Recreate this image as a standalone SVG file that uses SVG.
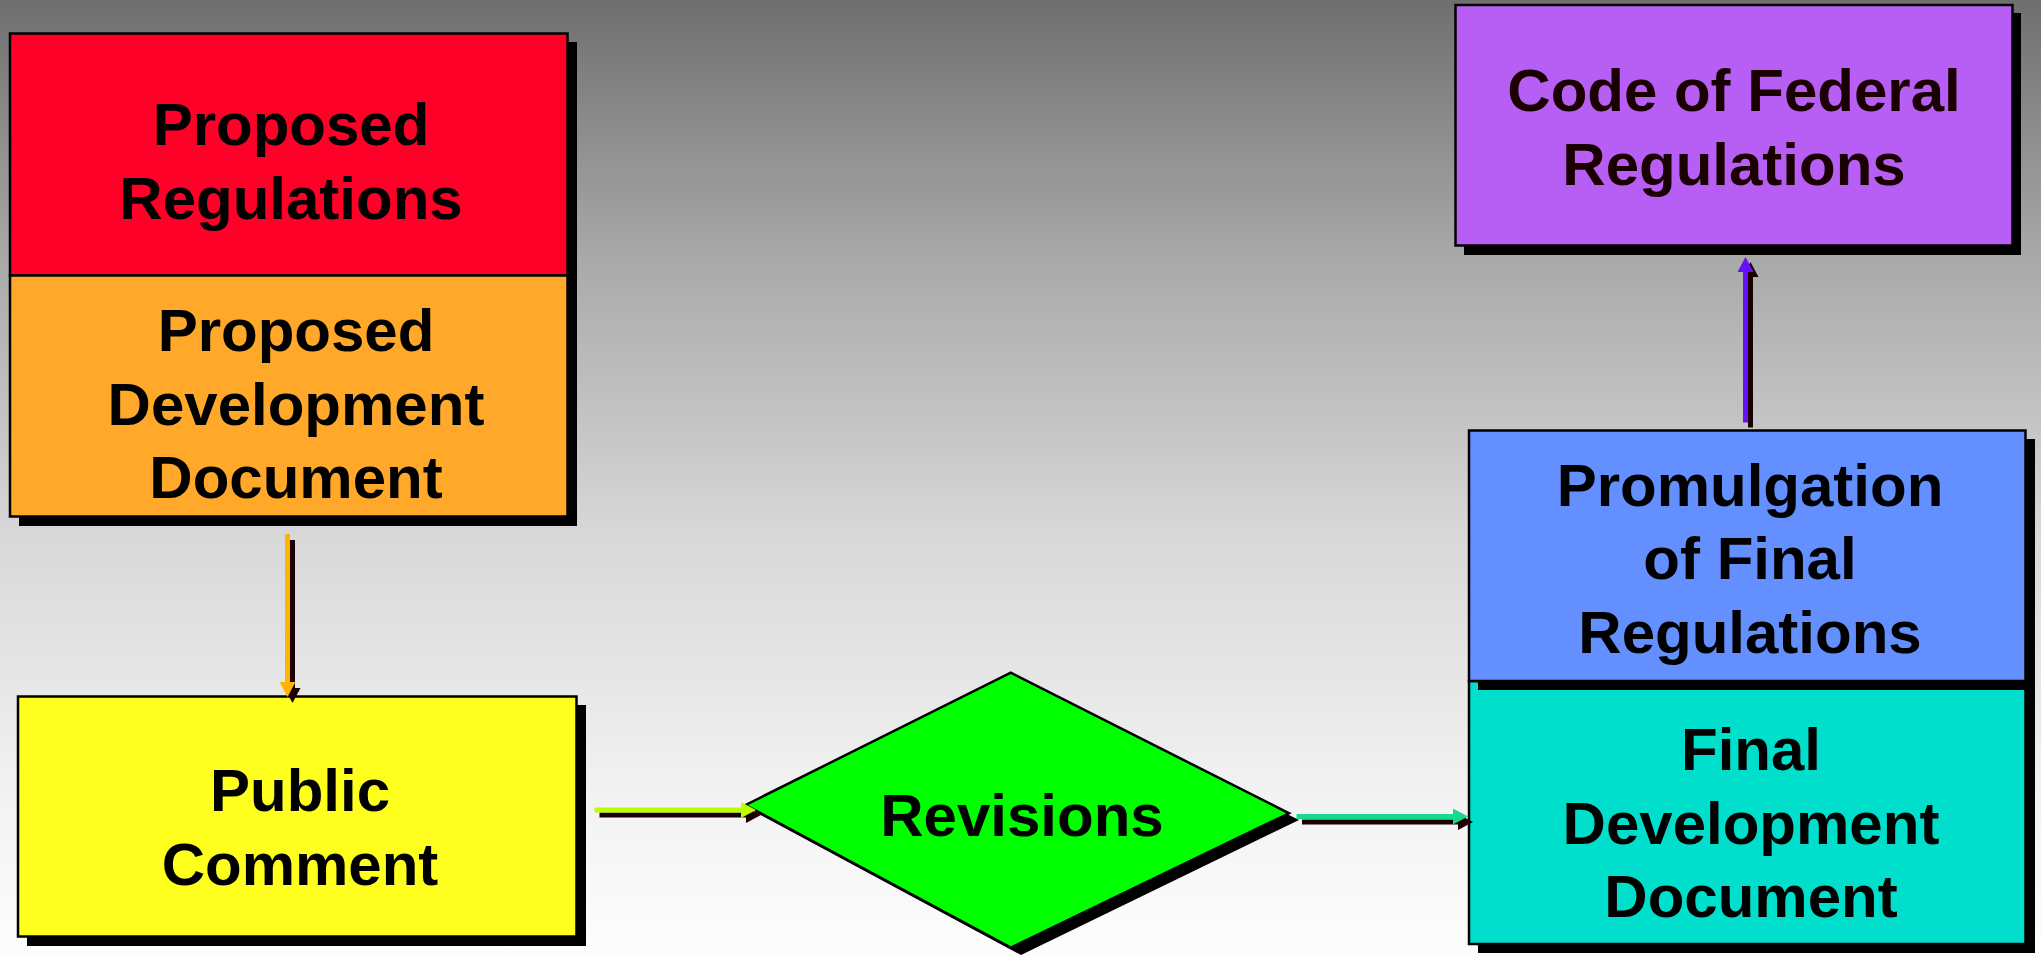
<svg xmlns="http://www.w3.org/2000/svg" width="2041" height="957" viewBox="0 0 2041 957">
  <defs>
    <linearGradient id="bg" x1="0" y1="0" x2="0" y2="1">
      <stop offset="0" stop-color="#6f6f6f"/>
      <stop offset="0.27" stop-color="#a9a9a9"/>
      <stop offset="0.44" stop-color="#c4c4c4"/>
      <stop offset="0.56" stop-color="#d8d8d8"/>
      <stop offset="0.84" stop-color="#f3f3f3"/>
      <stop offset="1" stop-color="#fdfdfd"/>
    </linearGradient>
    <marker id="head-amber" markerUnits="userSpaceOnUse" markerWidth="16" markerHeight="16" refX="0" refY="8" orient="auto">
      <path d="M0,0 L15,8 L0,16 z" fill="#ffb400"/>
    </marker>
    <marker id="head-lime" markerUnits="userSpaceOnUse" markerWidth="16" markerHeight="16" refX="0" refY="8" orient="auto">
      <path d="M0,0 L15,8 L0,16 z" fill="#bbff00"/>
    </marker>
    <marker id="head-teal" markerUnits="userSpaceOnUse" markerWidth="16" markerHeight="16" refX="0" refY="8" orient="auto">
      <path d="M0,0 L15,8 L0,16 z" fill="#1ad98c"/>
    </marker>
    <marker id="head-violet" markerUnits="userSpaceOnUse" markerWidth="16" markerHeight="16" refX="0" refY="8" orient="auto">
      <path d="M0,0 L15,8 L0,16 z" fill="#6612f4"/>
    </marker>
    <marker id="head-shadow" markerUnits="userSpaceOnUse" markerWidth="16" markerHeight="16" refX="0" refY="8" orient="auto">
      <path d="M0,0 L15,8 L0,16 z" fill="#1a0000"/>
    </marker>
  </defs>
  <style>
    .box { stroke: #000; stroke-width: 2.5; }
    .shadow { fill: #000; }
    .label { font-family: "Liberation Sans", Arial, sans-serif; font-weight: bold; font-size: 60px; text-anchor: middle; fill: #000; }
    .dark { fill: #1a0000; }
    .wire { fill: none; stroke-width: 5; stroke-linecap: butt; }
    .wire-shadow { fill: none; stroke: #1a0000; stroke-width: 5; marker-end: url(#head-shadow); }
  </style>

  <rect x="0" y="0" width="2041" height="957" fill="url(#bg)"/>

  <!-- Proposed Regulations -->
  <g id="proposed-regulations">
    <rect class="shadow" x="19" y="42" width="558" height="243"/>
    <rect class="box" x="10" y="33.5" width="557.5" height="242" fill="#ff0029"/>
    <text class="label" x="291" y="145">Proposed</text>
    <text class="label" x="291" y="219">Regulations</text>
  </g>

  <!-- Proposed Development Document -->
  <g id="proposed-development-document">
    <rect class="shadow" x="19" y="285" width="558" height="241"/>
    <rect class="box" x="10" y="275.5" width="557.5" height="241" fill="#ffa829"/>
    <text class="label" x="296" y="351">Proposed</text>
    <text class="label" x="296" y="425">Development</text>
    <text class="label" x="296" y="498">Document</text>
  </g>

  <!-- Public Comment -->
  <g id="public-comment">
    <rect class="shadow" x="27" y="705" width="559" height="241"/>
    <rect class="box" x="18" y="696.5" width="558.5" height="240" fill="#ffff1f"/>
    <text class="label" x="300" y="811">Public</text>
    <text class="label" x="300" y="885">Comment</text>
  </g>

  <!-- Revisions -->
  <g id="revisions">
    <polygon class="shadow" points="755,812 1020,680 1299,820 1021,955"/>
    <polygon class="box" points="745.5,805 1010.8,672.7 1289,813.3 1010.8,947.7" fill="#00ff00" stroke-width="2"/>
    <text class="label" x="1022" y="836">Revisions</text>
  </g>

  <!-- Final Development Document -->
  <g id="final-development-document">
    <rect class="shadow" x="1478" y="690" width="557" height="263"/>
    <rect class="box" x="1469" y="681" width="556.5" height="263" fill="#00dfcb"/>
    <text class="label" x="1751" y="770">Final</text>
    <text class="label" x="1751" y="844">Development</text>
    <text class="label" x="1751" y="917">Document</text>
  </g>

  <!-- Promulgation of Final Regulations -->
  <g id="promulgation-of-final-regulations">
    <rect class="shadow" x="1478" y="439" width="557" height="251"/>
    <rect class="box" x="1469" y="430.5" width="556.5" height="250.5" fill="#638fff"/>
    <text class="label" x="1750" y="506">Promulgation</text>
    <text class="label" x="1750" y="579">of Final</text>
    <text class="label" x="1750" y="653">Regulations</text>
  </g>

  <!-- Code of Federal Regulations -->
  <g id="code-of-federal-regulations">
    <rect class="shadow" x="1464" y="13" width="557" height="242"/>
    <rect class="box" x="1455.5" y="5" width="557" height="240.5" fill="#b75ff5"/>
    <text class="label dark" x="1734" y="111">Code of Federal</text>
    <text class="label dark" x="1734" y="185">Regulations</text>
  </g>

  <!-- Connectors: dark offset copy first, coloured arrow on top -->
  <g id="connectors">
    <line class="wire-shadow" x1="292.5" y1="540" x2="292.5" y2="688"/>
    <line class="wire" x1="287.5" y1="534" x2="287.5" y2="682" stroke="#ffb400" marker-end="url(#head-amber)"/>

    <line class="wire-shadow" x1="599.5" y1="815" x2="746" y2="815"/>
    <line class="wire" x1="594.5" y1="810" x2="741" y2="810" stroke="#bbff00" marker-end="url(#head-lime)"/>

    <line class="wire-shadow" x1="1302" y1="822" x2="1458" y2="822"/>
    <line class="wire" x1="1296.5" y1="816.5" x2="1453" y2="816.5" stroke="#1ad98c" marker-end="url(#head-teal)"/>

    <line class="wire-shadow" x1="1750.5" y1="427.5" x2="1750.5" y2="277"/>
    <line class="wire" x1="1745.5" y1="422.5" x2="1745.5" y2="272" stroke="#6612f4" marker-end="url(#head-violet)"/>
  </g>
</svg>
